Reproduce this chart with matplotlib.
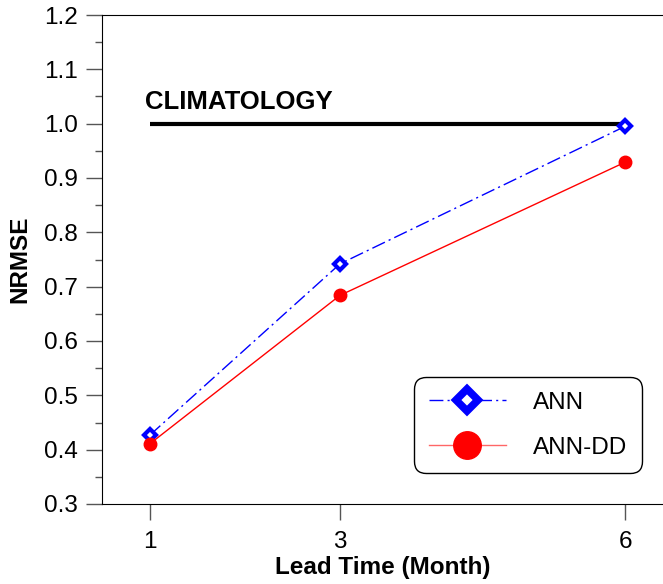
import matplotlib.pyplot as plt

lead_time = [1, 3, 6]
ann = [0.427, 0.742, 0.995]
ann_dd = [0.411, 0.684, 0.929]
climatology = [1.0, 1.0]
clim_x = [1, 6]

plt.rcParams['font.family'] = ['Liberation Sans', 'DejaVu Sans']

fig = plt.figure(figsize=(6.63, 5.84), dpi=100)
ax = fig.add_axes([102 / 663, 1 - 504 / 584, 561 / 663, 489 / 584])

ax.plot(clim_x, climatology, color='black', lw=3, solid_capstyle='butt')
ax.text(0.95, 1.04, 'CLIMATOLOGY', fontsize=18.5, fontweight='bold', va='center', ha='left')

ax.plot(lead_time, ann, color='blue', lw=1, linestyle=(0, (10, 3, 1.5, 3)),
        marker='D', markersize=6, markerfacecolor='white', markeredgecolor='blue',
        markeredgewidth=3, label='ANN')
ax.plot(lead_time, ann_dd, color='red', lw=1, marker='o', markersize=9,
        markerfacecolor='red', markeredgecolor='red', label='ANN-DD')

# 95 px per lead-time unit, axes runs off the right edge
ax.set_xlim(1 - 48 / 95, 1 - 48 / 95 + 561 / 95)
ax.set_ylim(0.3, 1.2)
ax.set_xticks(lead_time)
ax.set_yticks([0.3 + 0.1 * i for i in range(10)])
ax.set_yticklabels(['%.1f' % (0.3 + 0.1 * i) for i in range(10)])
ax.set_yticks([0.35 + 0.1 * i for i in range(9)], minor=True)
ax.tick_params(axis='both', which='major', direction='out', length=11.5, width=1,
               color='#555555', labelsize=17.5)
ax.tick_params(axis='y', which='major', pad=6)
ax.tick_params(axis='x', which='major', pad=8)
ax.tick_params(axis='y', which='minor', direction='out', length=5, width=1, color='#555555')
ax.spines['right'].set_visible(False)

ax.set_xlabel('Lead Time (Month)', fontsize=17.5, fontweight='bold', labelpad=2)
ax.set_ylabel('NRMSE', fontsize=17.5, fontweight='bold', labelpad=9)

leg = ax.legend(loc='upper left', bbox_to_anchor=((414 - 102) / 561, (504 - 377) / 489),
                borderaxespad=0, fontsize=17.5, markerscale=2.2, handlelength=3.2,
                borderpad=0.6, labelspacing=0.95, handletextpad=1.1, fancybox=True,
                edgecolor='black', framealpha=1)
leg.get_frame().set_linewidth(1)
leg.get_frame().set_boxstyle('round', pad=0, rounding_size=0.5)
leg.legend_handles[0].set_markeredgewidth(5.5)
leg.legend_handles[0].set_markersize(11)
leg.legend_handles[1].set_color('#ff6666')
leg.legend_handles[1].set_markerfacecolor('red')
leg.legend_handles[1].set_markeredgecolor('red')

fig.savefig('out.png', dpi=100)
